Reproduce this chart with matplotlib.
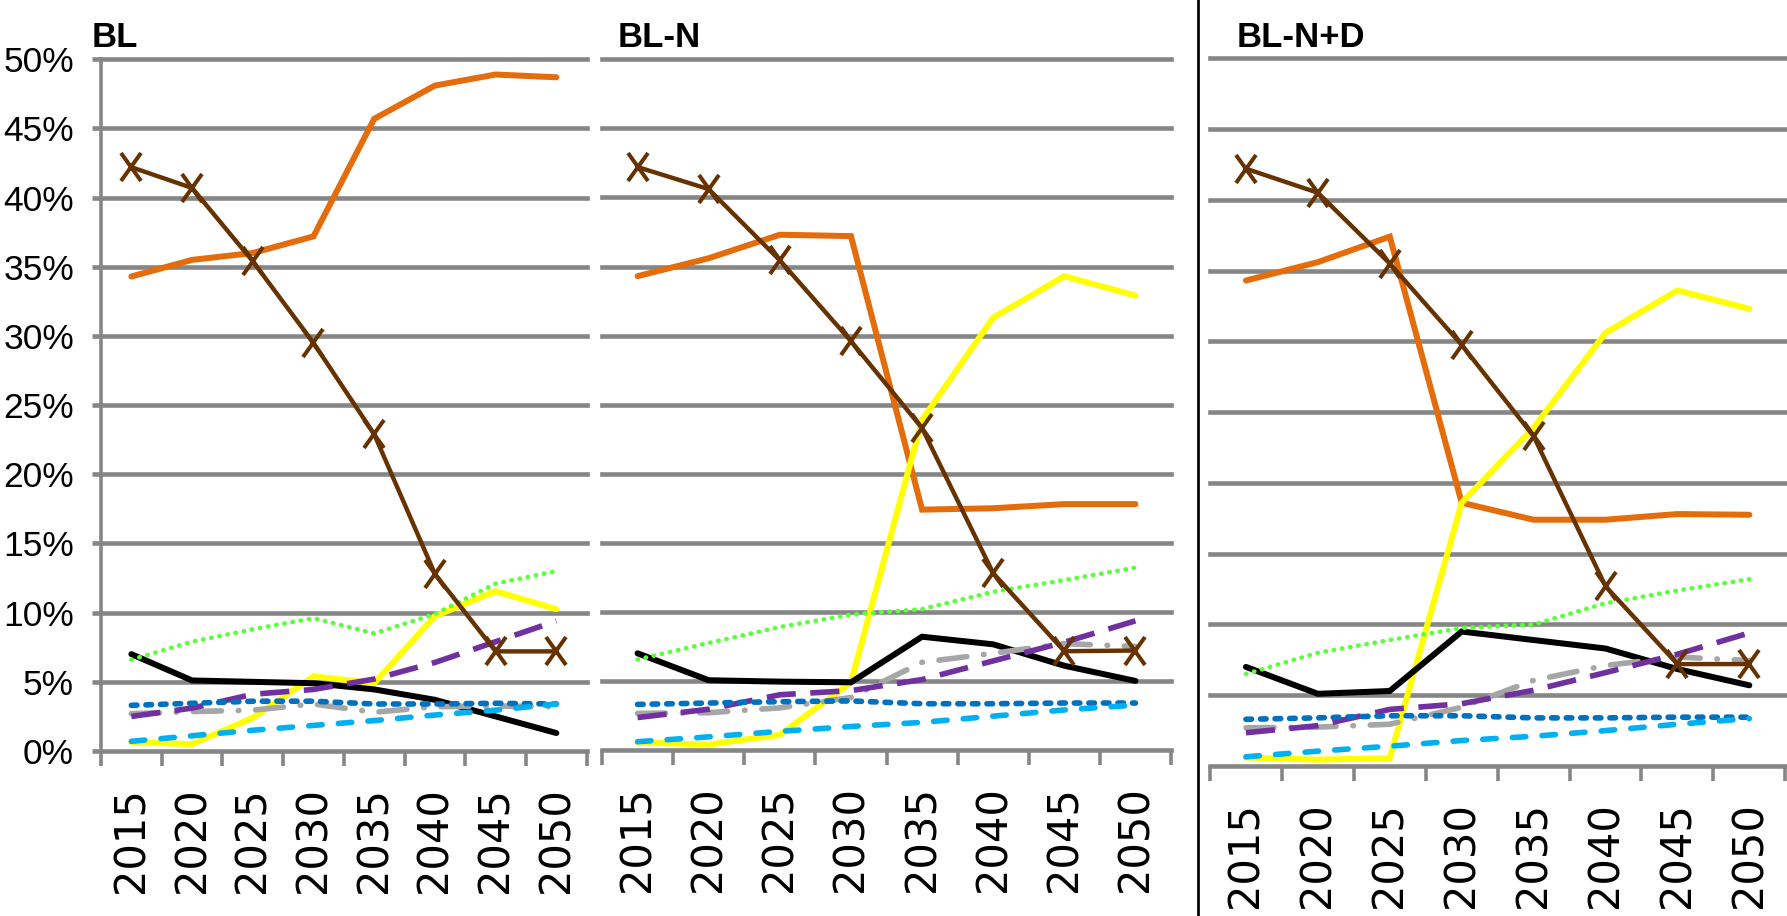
import numpy as np
import matplotlib
matplotlib.use("Agg")
import matplotlib.pyplot as plt
from matplotlib import font_manager
from matplotlib.lines import Line2D
from matplotlib.markers import MarkerStyle
from matplotlib.transforms import Affine2D
from matplotlib.ticker import PercentFormatter

# ---------------- data (share in %, one row per scenario) ----------------
years = ["2015", "2020", "2025", "2030", "2035", "2040", "2045", "2050"]
scenarios = ["BL", "BL-N", "BL-N+D"]

orange = [[34.3, 35.5, 36.0, 37.2, 45.7, 48.1, 48.9, 48.7],
          [34.3, 35.6, 37.3, 37.2, 17.4, 17.5, 17.8, 17.8],
          [34.3, 35.6, 37.4, 18.6, 17.4, 17.4, 17.8, 17.75]]
brown = [[42.2, 40.7, 35.4, 29.5, 22.9, 12.8, 7.2, 7.2],
         [42.2, 40.6, 35.45, 29.6, 23.3, 12.8, 7.15, 7.2],
         [42.2, 40.5, 35.5, 29.75, 23.3, 12.7, 7.2, 7.2]]
yellow = [[0.65, 0.5, 2.4, 5.4, 4.9, 9.75, 11.55, 10.25],
          [0.55, 0.4, 1.1, 4.9, 23.9, 31.3, 34.3, 32.9],
          [0.6, 0.45, 0.55, 18.6, 23.9, 30.6, 33.6, 32.3]]
green = [[6.6, 7.9, 8.8, 9.6, 8.5, 9.9, 12.1, 13.0],
         [6.55, 7.75, 8.9, 9.8, 10.2, 11.45, 12.3, 13.2],
         [6.5, 8.0, 8.9, 9.75, 10.0, 11.5, 12.4, 13.2]]
black = [[7.0, 5.1, 5.0, 4.9, 4.45, 3.7, 2.5, 1.3],
         [7.0, 5.05, 4.95, 4.9, 8.2, 7.65, 6.1, 5.0],
         [7.0, 5.1, 5.3, 9.5, 8.9, 8.3, 6.85, 5.7]]
purple = [[2.5, 3.1, 4.1, 4.45, 5.2, 6.4, 7.9, 9.4],
          [2.35, 2.95, 4.0, 4.3, 5.1, 6.45, 7.8, 9.35],
          [2.35, 2.85, 4.0, 4.4, 5.35, 6.6, 7.9, 9.4]]
darkblue = [[3.3, 3.45, 3.6, 3.6, 3.4, 3.4, 3.45, 3.4],
            [3.3, 3.4, 3.5, 3.55, 3.35, 3.35, 3.4, 3.4],
            [3.3, 3.4, 3.55, 3.55, 3.4, 3.4, 3.45, 3.45]]
grey = [[2.7, 2.85, 2.95, 3.4, 2.8, 3.2, 3.25, 3.2],
        [2.65, 2.7, 3.05, 3.8, 6.35, 7.0, 7.7, 7.5],
        [2.7, 2.75, 2.95, 4.15, 6.05, 7.1, 7.7, 7.45]]
lightblue = [[0.7, 1.1, 1.5, 1.85, 2.2, 2.6, 2.95, 3.4],
             [0.6, 0.95, 1.35, 1.7, 2.0, 2.45, 2.9, 3.25],
             [0.65, 1.05, 1.4, 1.8, 2.1, 2.5, 2.95, 3.35]]

yticks = [0, 5, 10, 15, 20, 25, 30, 35, 40, 45, 50]

# ---------------- styling ----------------
W, H = 1787, 916
PX = 0.72            # points per pixel at dpi=100
GRID = "#868686"

installed = {f.name for f in font_manager.fontManager.ttflist}
narrow = next((f for f in ["Liberation Sans Narrow", "Arial Narrow", "Liberation Sans"]
               if f in installed), "DejaVu Sans")

xmark = MarkerStyle("x", transform=Affine2D().scale(1.0, 1.4))

# (data, colour, width px, dashes, capstyle, marker)
series = [
    (orange,    "#E46C0A", 6.0, None,              "round", None),
    (yellow,    "#FFFF00", 6.0, None,              "round", None),
    (black,     "#000000", 6.0, None,              "round", None),
    (green,     "#5CFF3C", 4.6, (0.1, 1.7),        "round", None),
    (grey,      "#A6A6A6", 5.6, (5, 3, 0.1, 3),    "round", None),
    (purple,    "#7030A0", 5.6, (5.2, 2.6),        "butt",  None),
    (darkblue,  "#0070C0", 5.6, (1.0, 1.6),        "round", None),
    (lightblue, "#00B0F0", 5.6, (2.4, 2.9),        "round", None),
    (brown,     "#663300", 4.4, None,              "round", xmark),
]

# axes boxes in pixels: left, right, top, bottom
boxes = [(101, 586.7, 59.3, 751),
         (602, 1171, 59.3, 750),
         (1210, 1785.3, 58.3, 766)]
title_x = [91.7, 618, 1236.7]

fig = plt.figure(figsize=(W / 100, H / 100), dpi=100)

x = np.arange(len(years))
for i, (l, r, t, b) in enumerate(boxes):
    ax = fig.add_axes([l / W, 1 - b / H, (r - l) / W, (b - t) / H])
    ax.set_xlim(-0.5, len(years) - 0.5)
    ax.set_ylim(0, 50)

    # horizontal gridlines
    for v in yticks[1:]:
        ax.axhline(v, color=GRID, lw=4.6 * PX, zorder=1, clip_on=False)

    for data, col, lw, dashes, cap, mk in series:
        kw = dict(color=col, lw=lw * PX, zorder=3, solid_capstyle=cap,
                  dash_capstyle=cap, solid_joinstyle="miter")
        if dashes is not None:
            kw["dashes"] = dashes
        if mk is not None:
            kw.update(marker=mk, markersize=20 * PX, markeredgewidth=4 * PX,
                      markeredgecolor=col)
        ax.plot(x, data[i], **kw)

    for s in ("top", "right"):
        ax.spines[s].set_visible(False)
    ax.spines["bottom"].set_color(GRID)
    ax.spines["bottom"].set_linewidth(4.6 * PX)
    ax.spines["bottom"].set_zorder(1)

    # category labels in the middle, tick marks between categories
    ax.set_xticks(x, labels=years, rotation=90)
    ax.set_xticks(np.arange(-0.5, len(years)), minor=True)
    ax.tick_params(axis="x", which="major", length=0, pad=26,
                   labelsize=30, labelfontfamily="DejaVu Sans")
    ax.tick_params(axis="x", which="minor", length=15 * PX, width=3.6 * PX,
                   color=GRID, direction="out")
    for lab in ax.get_xticklabels():
        lab.set_va("top")

    if i == 0:
        ax.spines["left"].set_color(GRID)
        ax.spines["left"].set_linewidth(3.6 * PX)
        ax.spines["left"].set_zorder(1)
        ax.set_yticks(yticks)
        ax.yaxis.set_major_formatter(PercentFormatter(decimals=0))
        ax.tick_params(axis="y", length=9 * PX, width=4.6 * PX, color=GRID,
                       pad=13, labelsize=25.5, labelfontfamily=narrow)
    else:
        ax.spines["left"].set_visible(False)
        ax.set_yticks([])

    fig.text(title_x[i] / W, 1 - 47 / H, scenarios[i], ha="left", va="baseline",
             fontsize=25, fontweight="bold", family=narrow)

# divider before the last panel
fig.add_artist(Line2D([1198.3 / W] * 2, [0, 1], transform=fig.transFigure,
                      color="black", lw=2.7 * PX))

fig.savefig("out.png", dpi=100)
